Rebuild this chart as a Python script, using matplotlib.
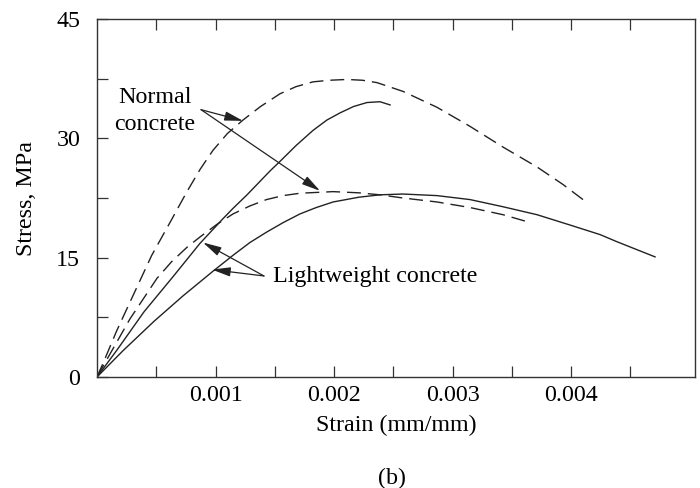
import matplotlib
matplotlib.use('Agg')
import matplotlib.pyplot as plt

# strain values in units of 1e-3 mm/mm, stress in MPa
normal_a_strain = [0, 0.053, 0.166, 0.306, 0.462, 0.630, 0.759, 0.870, 0.979, 1.100,
                   1.232, 1.380, 1.544, 1.680, 1.823, 1.960, 2.110, 2.240, 2.363, 2.582,
                   2.869, 3.148, 3.426, 3.713, 3.932, 4.101]
normal_a_stress = [0, 1.8, 5.8, 10.3, 15.3, 19.8, 23.3, 26.1, 28.5, 30.6,
                   32.3, 34.0, 35.6, 36.5, 37.1, 37.3, 37.4, 37.3, 37.0, 35.9,
                   33.9, 31.5, 28.9, 26.4, 24.2, 22.3]

normal_b_strain = [0, 0.110, 0.278, 0.506, 0.630, 0.759, 0.869, 1.013, 1.148, 1.290,
                   1.430, 1.570, 1.713, 1.992, 2.210, 2.388, 2.582, 2.869, 3.148, 3.426,
                   3.612]
normal_b_stress = [0, 2.9, 7.3, 12.4, 14.5, 16.3, 17.6, 19.2, 20.5, 21.5,
                   22.3, 22.8, 23.1, 23.3, 23.15, 22.9, 22.5, 22.0, 21.3, 20.4,
                   19.6]

light_a_strain = [0, 0.169, 0.397, 0.641, 0.869, 1.063, 1.148, 1.266, 1.460, 1.544,
                  1.680, 1.823, 1.940, 2.051, 2.165, 2.278, 2.388, 2.473]
light_a_stress = [0, 3.4, 8.2, 12.6, 16.8, 19.9, 21.2, 22.9, 25.9, 27.1,
                  29.1, 31.0, 32.3, 33.2, 34.0, 34.5, 34.6, 34.2]

light_b_strain = [0, 0.219, 0.481, 0.726, 0.979, 1.148, 1.290, 1.430, 1.570, 1.713,
                  1.850, 1.992, 2.210, 2.388, 2.582, 2.869, 3.148, 3.426, 3.713, 3.992,
                  4.245, 4.388, 4.709]
light_b_stress = [0, 3.3, 7.0, 10.2, 13.3, 15.3, 16.9, 18.2, 19.4, 20.5,
                  21.3, 22.0, 22.6, 22.9, 23.0, 22.8, 22.3, 21.4, 20.4, 19.1,
                  17.9, 17.0, 15.1]

x_major = [0.001, 0.002, 0.003, 0.004]
x_labels = ['0.001', '0.002', '0.003', '0.004']
x_minor = [0.0005, 0.0015, 0.0025, 0.0035, 0.0045]
y_major = [0, 15, 30, 45]
y_minor = [7.5, 22.5, 37.5]

plt.rcParams['font.family'] = ['Liberation Serif', 'DejaVu Serif']
plt.rcParams['font.size'] = 17.3

fig = plt.figure(figsize=(7, 4.88), dpi=100)
ax = fig.add_axes([97 / 700, 111 / 488, 598 / 700, 358 / 488])

def strain(v):
    return [s * 1e-3 for s in v]

dash = (0, (10, 5))
ax.plot(strain(normal_a_strain), normal_a_stress, color='#222', lw=1.0, linestyle=dash)
ax.plot(strain(normal_b_strain), normal_b_stress, color='#222', lw=1.0, linestyle=dash)
ax.plot(strain(light_a_strain), light_a_stress, color='#222', lw=1.0)
ax.plot(strain(light_b_strain), light_b_stress, color='#222', lw=1.0)

ax.set_xlim(0, 0.005046)
ax.set_ylim(0, 45)

ax.set_xticks(x_major, x_labels)
ax.set_xticks(x_minor, minor=True)
ax.set_yticks(y_major, [str(v) for v in y_major])
ax.set_yticks(y_minor, minor=True)
ax.tick_params(which='both', direction='in', length=8, width=0.9, color='#333',
               top=True, right=False)
ax.tick_params(axis='x', pad=6)
ax.tick_params(axis='y', pad=12)
for sp in ax.spines.values():
    sp.set_linewidth(1.0)
    sp.set_color('#333')

ax.set_xlabel('Strain (mm/mm)', labelpad=6)
ax.set_ylabel('Stress, MPa', labelpad=14)

# annotations
arrow = dict(arrowstyle='-|>,head_length=0.8,head_width=0.2', lw=0.9, color='#222',
             shrinkA=0, shrinkB=0, mutation_scale=14)
ax.text(0.000489, 33.4, 'Normal\nconcrete', ha='center', va='center', linespacing=1.35)
ax.annotate('', xy=(0.001232, 32.2), xytext=(0.000878, 33.6), arrowprops=arrow)
ax.annotate('', xy=(0.001882, 23.4), xytext=(0.000878, 33.6), arrowprops=arrow)

ax.text(0.001485, 12.6, 'Lightweight concrete', ha='left', va='center')
ax.annotate('', xy=(0.000895, 16.9), xytext=(0.001409, 12.7), arrowprops=arrow)
ax.annotate('', xy=(0.000970, 13.5), xytext=(0.001409, 12.7), arrowprops=arrow)

fig.text(392 / 700, 1 - 478 / 488, '(b)', ha='center', va='center')

plt.savefig('out.png', dpi=100)
plt.close()
